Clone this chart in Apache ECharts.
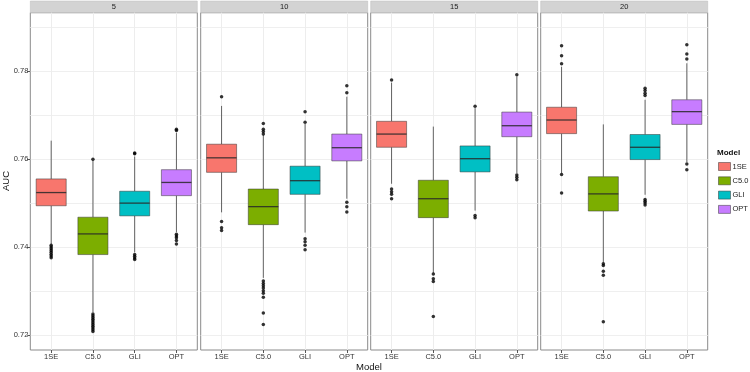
<!DOCTYPE html>
<html>
<head>
<meta charset="utf-8">
<script src="https://cdn.jsdelivr.net/npm/echarts@6/dist/echarts.min.js"></script>
<style>
  html, body { margin: 0; padding: 0; background: #fff; }
  #chart { width: 750px; height: 372px; }
</style>
</head>
<body>
<div id="chart"></div>
<script>
// facets (strip labels) and models (x categories)
const facets = ['5', '10', '15', '20']
const models = ['1SE', 'C5.0', 'GLI', 'OPT']
const yTicks = [0.72, 0.74, 0.76, 0.78]

// box summaries per facet: [lower whisker, Q1, median, Q3, upper whisker]
const box1SE = [
  [0.7406, 0.7494, 0.7524, 0.7555, 0.7642],
  [0.7479, 0.7570, 0.7603, 0.7634, 0.7721],
  [0.7544, 0.7627, 0.7657, 0.7686, 0.7774],
  [0.7568, 0.7658, 0.7689, 0.7718, 0.7810]
]
const boxC50 = [
  [0.7252, 0.7383, 0.7430, 0.7468, 0.7598],
  [0.7330, 0.7451, 0.7492, 0.7532, 0.7655],
  [0.7341, 0.7467, 0.7510, 0.7552, 0.7674],
  [0.7365, 0.7482, 0.7521, 0.7560, 0.7679]
]
const boxGLI = [
  [0.7388, 0.7471, 0.7500, 0.7527, 0.7606],
  [0.7433, 0.7520, 0.7551, 0.7584, 0.7680],
  [0.7483, 0.7571, 0.7601, 0.7630, 0.7716],
  [0.7519, 0.7599, 0.7627, 0.7656, 0.7735]
]
const boxOPT = [
  [0.7434, 0.7517, 0.7547, 0.7576, 0.7660],
  [0.7510, 0.7596, 0.7626, 0.7657, 0.7742],
  [0.7568, 0.7651, 0.7676, 0.7707, 0.7788],
  [0.7593, 0.7679, 0.7708, 0.7735, 0.7818]
]

// outliers per facet
const out1SE = [
  [0.7404, 0.7400, 0.7396, 0.7392, 0.7388, 0.7384, 0.7380, 0.7376],
  [0.7742, 0.7458, 0.7444, 0.7438],
  [0.7780, 0.7532, 0.7526, 0.7520, 0.7510],
  [0.7858, 0.7835, 0.7817, 0.7565, 0.7523]
]
const outC50 = [
  [0.7600, 0.7248, 0.7244, 0.7240, 0.7236, 0.7232, 0.7228, 0.7224, 0.7220, 0.7216, 0.7212, 0.7208],
  [0.7681, 0.7668, 0.7663, 0.7657, 0.7323, 0.7317, 0.7312, 0.7307, 0.7301, 0.7295, 0.7286, 0.7250, 0.7224],
  [0.7339, 0.7328, 0.7322, 0.7242],
  [0.7362, 0.7358, 0.7345, 0.7336, 0.7230]
]
const outGLI = [
  [0.7614, 0.7612, 0.7383, 0.7379, 0.7375, 0.7372],
  [0.7708, 0.7684, 0.7419, 0.7412, 0.7404, 0.7394],
  [0.7720, 0.7472, 0.7467],
  [0.7761, 0.7756, 0.7750, 0.7745, 0.7508, 0.7504, 0.7500, 0.7496]
]
const outOPT = [
  [0.7668, 0.7665, 0.7429, 0.7425, 0.7421, 0.7415, 0.7407],
  [0.7767, 0.7751, 0.7502, 0.7492, 0.7480],
  [0.7792, 0.7564, 0.7559, 0.7553],
  [0.7860, 0.7839, 0.7828, 0.7589, 0.7576]
]

const colors = ['#F8766D', '#7CAE00', '#00BFC4', '#C77CFF']
const boxes = [box1SE, boxC50, boxGLI, boxOPT]
const outs = [out1SE, outC50, outGLI, outOPT]

const FONT = 'Liberation Sans, Arial, sans-serif'
const gridLeft = [30.3, 200.7, 370.7, 540.7]
const gridW = 167
const gridTop = 12.7
const gridH = 337.3
const yMin = 0.7166
const yMax = 0.7933

function renderBox(params, api) {
  const x = api.value(0)
  const lo = api.coord([x, api.value(1)])
  const q1 = api.coord([x, api.value(2)])
  const med = api.coord([x, api.value(3)])
  const q3 = api.coord([x, api.value(4)])
  const hi = api.coord([x, api.value(5)])
  const half = api.size([1, 0])[0] * 0.36
  const whisker = { stroke: 'rgba(51,51,51,0.75)', lineWidth: 1 }
  return {
    type: 'group',
    children: [
      { type: 'line', shape: { x1: lo[0], y1: lo[1], x2: q1[0], y2: q1[1] }, style: whisker },
      { type: 'line', shape: { x1: hi[0], y1: hi[1], x2: q3[0], y2: q3[1] }, style: whisker },
      {
        type: 'rect',
        shape: { x: q3[0] - half, y: q3[1], width: half * 2, height: q1[1] - q3[1] },
        style: { fill: api.visual('color'), stroke: 'rgba(51,51,51,0.5)', lineWidth: 1 }
      },
      {
        type: 'line',
        shape: { x1: med[0] - half, y1: med[1], x2: med[0] + half, y2: med[1] },
        style: { stroke: 'rgba(40,40,40,0.85)', lineWidth: 1.3 }
      }
    ]
  }
}

const grids = []
const xAxes = []
const yAxes = []
const series = []
const graphics = []

facets.forEach((f, i) => {
  grids.push({
    left: gridLeft[i], top: gridTop, width: gridW, height: gridH,
    show: true, backgroundColor: '#fff', borderColor: '#8a8a8a', borderWidth: 1
  })
  // labelled axes (ticks + labels only)
  xAxes.push({
    gridIndex: i, type: 'value', min: -0.5, max: 3.5,
    axisLine: { show: false, onZero: false },
    axisTick: { show: true, customValues: [0, 1, 2, 3], length: 3, lineStyle: { color: '#555' } },
    axisLabel: {
      customValues: [0, 1, 2, 3], formatter: v => models[v] || '',
      fontSize: 7.5, color: '#333', fontFamily: FONT, margin: 3
    },
    splitLine: { show: false }
  })
  yAxes.push({
    gridIndex: i, type: 'value', min: yMin, max: yMax,
    axisLine: { show: false, onZero: false },
    axisTick: { show: i === 0, customValues: yTicks, length: 3, lineStyle: { color: '#555' } },
    axisLabel: {
      show: i === 0, customValues: yTicks, formatter: v => v.toFixed(2),
      fontSize: 7.5, color: '#333', fontFamily: FONT, margin: 2
    },
    splitLine: { show: false }
  })
  // grid-line axes (split lines only)
  xAxes.push({
    gridIndex: i, type: 'value', min: -0.5, max: 3.5,
    minInterval: 1, maxInterval: 1, splitNumber: 4,
    axisLine: { show: false, onZero: false }, axisTick: { show: false }, axisLabel: { show: false },
    splitLine: { show: true, showMinLine: false, showMaxLine: false, lineStyle: { color: '#EDEDED', width: 1 } }
  })
  yAxes.push({
    gridIndex: i, type: 'value', min: yMin, max: yMax,
    splitNumber: 8, minInterval: 0.01, maxInterval: 0.01,
    axisLine: { show: false, onZero: false }, axisTick: { show: false }, axisLabel: { show: false },
    splitLine: { show: true, showMinLine: false, showMaxLine: false, lineStyle: { color: '#EFEFEF', width: 1 } }
  })
  models.forEach((m, mi) => {
    series.push({
      name: m, type: 'custom', xAxisIndex: 2 * i, yAxisIndex: 2 * i,
      itemStyle: { color: colors[mi] },
      encode: { x: 0, y: [1, 2, 3, 4, 5] },
      renderItem: renderBox,
      data: [[mi].concat(boxes[mi][i])],
      z: 2
    })
  })
  const pts = []
  models.forEach((m, mi) => {
    outs[mi][i].forEach(v => pts.push([mi, v]))
  })
  series.push({
    type: 'scatter', xAxisIndex: 2 * i, yAxisIndex: 2 * i,
    symbolSize: 3.5, itemStyle: { color: '#000' },
    data: pts, z: 3, silent: true
  })
  // facet strip
  graphics.push({
    type: 'rect',
    shape: { x: gridLeft[i], y: 1, width: gridW, height: gridTop - 1 },
    style: { fill: '#D3D3D3', stroke: '#BDBDBD', lineWidth: 0.5 }
  })
  graphics.push({
    type: 'text',
    x: gridLeft[i] + gridW / 2, y: 1 + (gridTop - 1) / 2,
    style: { text: f, fill: '#1a1a1a', font: '7.5px ' + FONT, align: 'center', verticalAlign: 'middle' }
  })
})

// axis titles
graphics.push({
  type: 'text', x: 369, y: 367,
  style: { text: 'Model', fill: '#111', font: '9.5px ' + FONT, align: 'center', verticalAlign: 'middle' }
})
graphics.push({
  type: 'text', x: 6, y: 181, rotation: Math.PI / 2,
  style: { text: 'AUC', fill: '#111', font: '9.5px ' + FONT, align: 'center', verticalAlign: 'middle' }
})

const myChart = echarts.init(document.getElementById('chart'))
const option = {
  animation: false,
  title: {
    text: 'Model', left: 717, top: 149, padding: 0,
    textStyle: { fontSize: 8, fontWeight: 'bold', color: '#111', fontFamily: FONT }
  },
  legend: {
    data: models, orient: 'vertical', left: 718, top: 162, padding: 0,
    icon: 'rect', itemWidth: 12, itemHeight: 8, itemGap: 5.3,
    selectedMode: false,
    itemStyle: { borderColor: 'rgba(51,51,51,0.5)', borderWidth: 1 },
    textStyle: { fontSize: 7.5, color: '#222', fontFamily: FONT, padding: [0, 0, 0, -3] }
  },
  grid: grids,
  xAxis: xAxes,
  yAxis: yAxes,
  series: series,
  graphic: graphics
}
myChart.setOption(option)
window.addEventListener('resize', function () {
  myChart.resize()
})
</script>
</body>
</html>
